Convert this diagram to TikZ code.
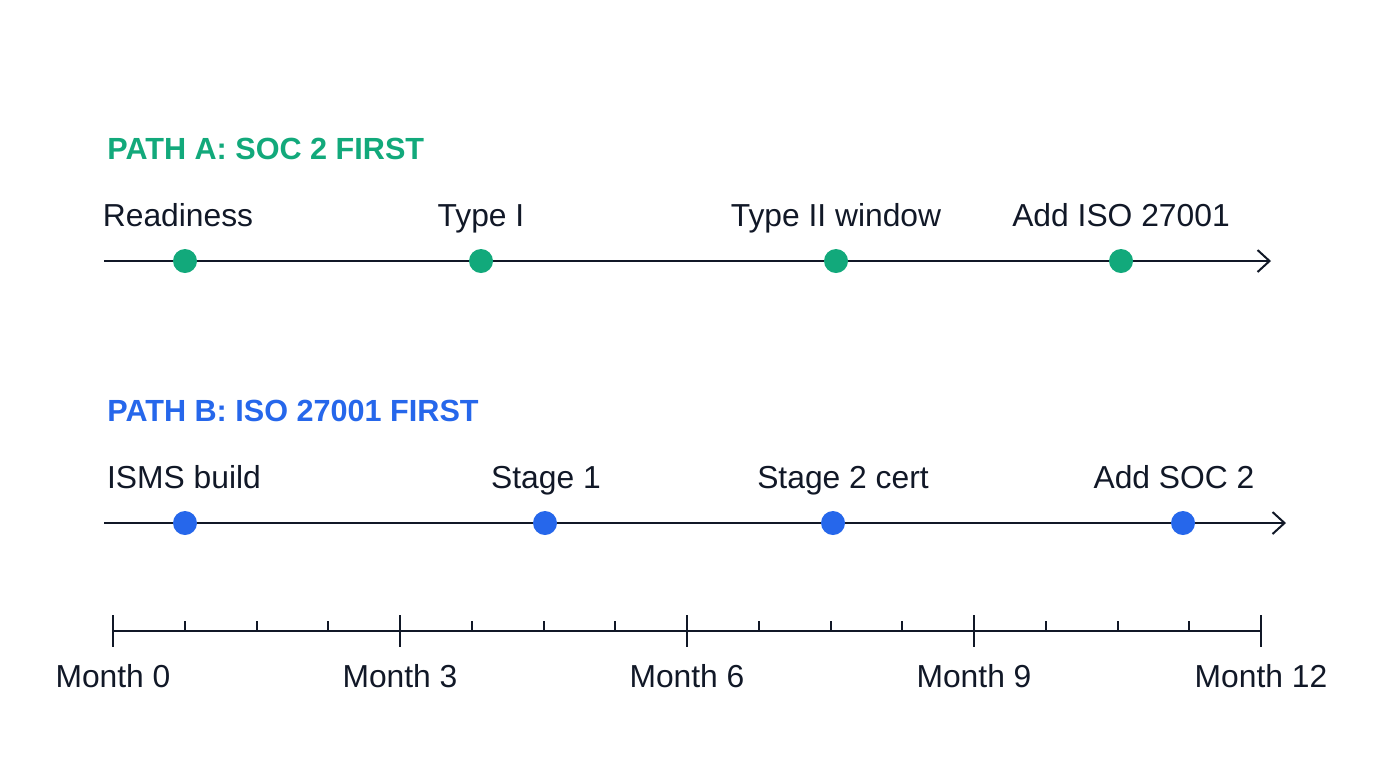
\documentclass[tikz,border=0pt]{standalone}
\usepackage{fontspec}
\setmainfont{Liberation Sans}
\usetikzlibrary{arrows.meta,calc}
\definecolor{ink}{HTML}{111827}
\definecolor{pathA}{HTML}{12A97B}
\definecolor{pathB}{HTML}{2667EB}

\begin{document}
\begin{tikzpicture}[x=0.5pt,y=-0.5pt,>={Straight Barb[length=6pt,width=11pt,line width=1pt]},
  dot/.style={circle, fill=#1, minimum size=12pt, inner sep=0pt},
  lbl/.style={anchor=base, text=ink, font=\fontsize{15.9}{18}\selectfont, inner sep=0pt},
  ttl/.style={anchor=base west, text=#1, font=\fontsize{15.3}{18}\selectfont\bfseries, inner sep=0pt},
  line/.style={draw=ink, line width=1pt}]
  \useasboundingbox (0,0) rectangle (1376,768);
  %coordinates
  \coordinate (As) at (104,261);
  \coordinate (Ae) at (1271,261);
  \coordinate (Bs) at (104,523);
  \coordinate (Be) at (1286,523);
  % Path A
  \node[ttl=pathA] (TA) at (107,159) {PATH A: SOC 2 FIRST};
  \draw[line,->] (As) -- (Ae);
  \node[dot=pathA] (A1) at (185,261) {};
  \node[dot=pathA] (A2) at (481,261) {};
  \node[dot=pathA] (A3) at (836,261) {};
  \node[dot=pathA] (A4) at (1121,261) {};
  \node[lbl] (LA1) at (178,226) {Readiness};
  \node[lbl] (LA2) at (481,226) {Type I};
  \node[lbl] (LA3) at (836,226) {Type II window};
  \node[lbl] (LA4) at (1121,226) {Add ISO 27001};
  % Path B
  \node[ttl=pathB] (TB) at (107,421) {PATH B: ISO 27001 FIRST};
  \draw[line,->] (Bs) -- (Be);
  \node[dot=pathB] (B1) at (185,523) {};
  \node[dot=pathB] (B2) at (545,523) {};
  \node[dot=pathB] (B3) at (833,523) {};
  \node[dot=pathB] (B4) at (1183,523) {};
  \node[lbl] (LB1) at (184,488) {ISMS build};
  \node[lbl] (LB2) at (546,488) {Stage 1};
  \node[lbl] (LB3) at (843,488) {Stage 2 cert};
  \node[lbl] (LB4) at (1174,488) {Add SOC 2};
  % Months
  \coordinate (M0) at (113,631);
  \coordinate (M12) at (1261,631);
  \draw[line] (M0) -- (M12);
  \foreach \k in {1,2,3,5,6,7,9,10,11,13,14,15}
    \draw[line] ($(M0)!\k/16!(M12)$) -- ++(0,-10);
  \foreach \m in {0,3,...,12}{
    \draw[line] ($(M0)!\m/12!(M12)$) ++(0,-16) -- ++(0,32);
    \node[lbl] (ML\m) at ($(M0)!\m/12!(M12)+(0,56)$) {Month \m};
  }
\end{tikzpicture}
\end{document}
